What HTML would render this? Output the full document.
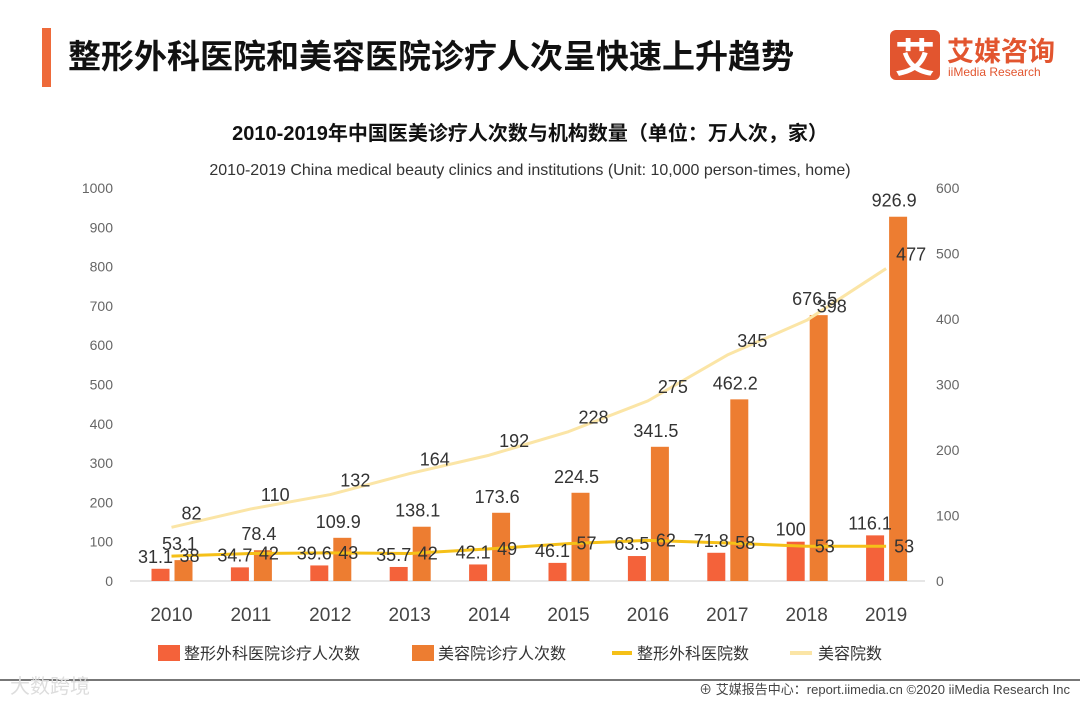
<!DOCTYPE html>
<html><head><meta charset="utf-8">
<style>
body{margin:0;background:#fff;width:1080px;height:702px;overflow:hidden;font-family:"Liberation Sans","Noto Sans CJK SC",sans-serif;}
svg text{font-family:"Liberation Sans","Noto Sans CJK SC",sans-serif;}
</style></head><body>
<svg id="c" width="1080" height="702" viewBox="0 0 1080 702" xmlns="http://www.w3.org/2000/svg">
<rect x="42" y="28" width="9" height="59" fill="#ee6a3a"/>
<text x="68" y="68" font-size="33" font-weight="bold" fill="#111">整形外科医院和美容医院诊疗人次呈快速上升趋势</text>
<g>
<rect x="890" y="30" width="50" height="50" rx="6" fill="#e2552f"/>
<text x="915" y="72" font-size="40" font-weight="bold" fill="#fff" text-anchor="middle">艾</text>
<text x="947" y="61" font-size="27" font-weight="bold" fill="#e2552f">艾媒咨询</text>
<text x="948" y="76" font-size="12" fill="#e2552f">iiMedia Research</text>
</g>
<text x="530" y="140" font-size="20" font-weight="bold" fill="#111" text-anchor="middle">2010-2019年中国医美诊疗人次数与机构数量（单位：万人次，家）</text>
<text x="530" y="175" font-size="16" fill="#333" text-anchor="middle">2010-2019 China medical beauty clinics and institutions (Unit: 10,000 person-times, home)</text>
<g id="plot"></g>
<g font-size="16" fill="#333">
<g><rect x="158" y="645" width="22" height="16" fill="#f4623a"/><text x="184" y="659">整形外科医院诊疗人次数</text></g>
<g><rect x="412" y="645" width="22" height="16" fill="#ed7d31"/><text x="438" y="659">美容院诊疗人次数</text></g>
<g><line x1="612" y1="653" x2="632" y2="653" stroke="#f5c018" stroke-width="4"/><text x="637" y="659">整形外科医院数</text></g>
<g><line x1="790" y1="653" x2="812" y2="653" stroke="#fbe5a6" stroke-width="4"/><text x="818" y="659">美容院数</text></g>
</g>
<line x1="0" y1="680" x2="1080" y2="680" stroke="#777" stroke-width="2"/>
<text x="10" y="693" font-size="20" fill="#ddd">大数跨境</text>
<text x="1070" y="694" font-size="13" fill="#444" text-anchor="end">⊕ 艾媒报告中心：report.iimedia.cn  ©2020  iiMedia Research  Inc</text>
</svg>
<script>
const years=["2010","2011","2012","2013","2014","2015","2016","2017","2018","2019"];
const plasticVisits=[31.1,34.7,39.6,35.7,42.1,46.1,63.5,71.8,100,116.1];
const beautyVisits=[53.1,78.4,109.9,138.1,173.6,224.5,341.5,462.2,676.5,926.9];
const plasticCount=[38,42,43,42,49,57,62,58,53,53];
const beautyCount=[82,110,132,164,192,228,275,345,398,477];
const leftTicks=[0,100,200,300,400,500,600,700,800,900,1000];
const rightTicks=[0,100,200,300,400,500,600];
const NS="http://www.w3.org/2000/svg";
const g=document.getElementById('plot');
const y0=581,yTop=188;
const yL=v=>y0-(y0-yTop)*v/1000;
const yR=v=>y0-(y0-yTop)*v/600;
const xC=i=>171.5+i*79.4;
function mk(t,a,p){const e=document.createElementNS(NS,t);for(const k in a)e.setAttribute(k,a[k]);(p||g).appendChild(e);return e;}
leftTicks.forEach(v=>{const t=mk('text',{x:113,y:yL(v)+5,'font-size':14,fill:'#666','text-anchor':'end'});t.textContent=v;

});
rightTicks.forEach(v=>{const t=mk('text',{x:936,y:yR(v)+5,'font-size':14,fill:'#666'});t.textContent=v;

});
const ax=mk('line',{x1:130,y1:y0,x2:925,y2:y0,stroke:'#ccc'});


years.forEach((y,i)=>{const t=mk('text',{x:xC(i),y:621,'font-size':19,fill:'#444','text-anchor':'middle'});t.textContent=y;

});
years.forEach((y,i)=>{
const b1=mk('rect',{x:xC(i)-20,y:yL(plasticVisits[i]),width:18,height:y0-yL(plasticVisits[i]),fill:'#f4623a'});


const b2=mk('rect',{x:xC(i)+3,y:yL(beautyVisits[i]),width:18,height:y0-yL(beautyVisits[i]),fill:'#ed7d31'});


});
function line(arr,color,name){
const pts=arr.map((v,i)=>xC(i)+','+yR(v)).join(' ');
const l=mk('polyline',{points:pts,fill:'none',stroke:color,'stroke-width':3,'stroke-linejoin':'round'});


}
line(beautyCount,'#fbe5a6','line-beauty-count');
line(plasticCount,'#f5c018','line-plastic-count');
function lab(x,y,s,name,anchor){const t=mk('text',{x:x,y:y,'font-size':18,fill:'#333','text-anchor':anchor||'middle'});t.textContent=s;

}
years.forEach((y,i)=>{
lab(xC(i)-16,yL(plasticVisits[i])-6,plasticVisits[i],'label-plastic-visits');
lab(xC(i)+8,yL(beautyVisits[i])-10,beautyVisits[i],'label-beauty-visits');
lab(xC(i)+8,yR(plasticCount[i])+6,plasticCount[i],'label-plastic-count','start');
lab(xC(i)+10,yR(beautyCount[i])-8,beautyCount[i],'label-beauty-count','start');
});
</script>
</body></html>
